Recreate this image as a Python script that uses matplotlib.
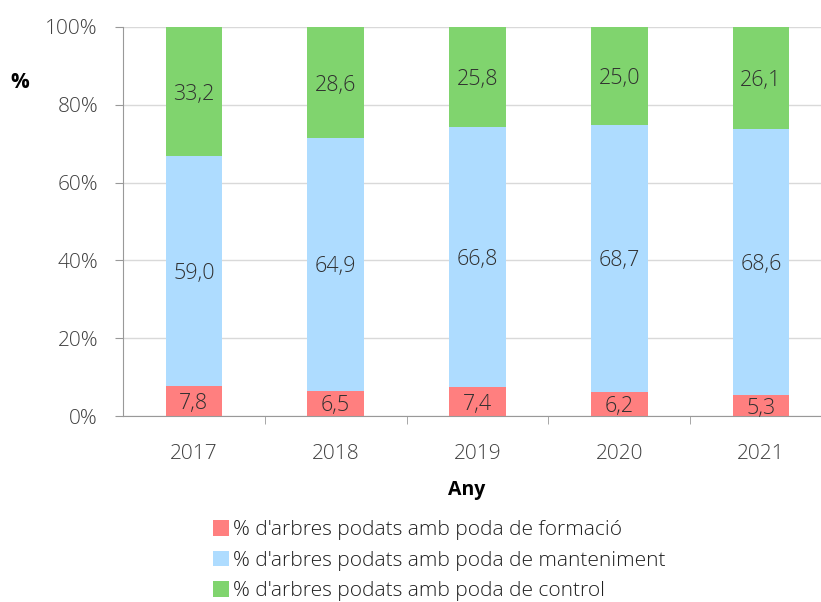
import numpy as np
import matplotlib.pyplot as plt

plt.rcParams['font.family'] = ['Open Sans', 'DejaVu Sans']

years = ['2017', '2018', '2019', '2020', '2021']
formacio = [7.8, 6.5, 7.4, 6.2, 5.3]
manteniment = [59.0, 64.9, 66.8, 68.7, 68.6]
control = [33.2, 28.6, 25.8, 25.0, 26.1]
noms = ["% d'arbres podats amb poda de formació",
        "% d'arbres podats amb poda de manteniment",
        "% d'arbres podats amb poda de control"]
colors = ['#FF7F7F', '#AEDCFF', '#80D46E']

txt = '#404040'
fig = plt.figure(figsize=(8.21, 6.02), dpi=100)
ax = fig.add_axes([123/821, 1-416/602, (832-123)/821, (416-27)/602])

x = np.arange(len(years))
w = 0.40
bottom = np.zeros(len(years))
for vals, c, n in zip([formacio, manteniment, control], colors, noms):
    ax.bar(x, vals, w, bottom=bottom, color=c, label=n, zorder=2)
    for xi, v, bt in zip(x, vals, bottom):
        ax.text(xi, bt + v/2, ('%.1f' % v).replace('.', ','), ha='center', va='center_baseline',
                fontsize=15.5, fontweight='light', color='#303030', zorder=3)
    bottom = bottom + np.array(vals)

ax.set_xlim(-0.5, len(years) - 0.5)
ax.set_ylim(0, 100)
ax.set_yticks(np.arange(0, 101, 20))
ax.set_yticklabels(['%d%%' % v for v in range(0, 101, 20)], fontsize=15,
                   fontweight='light', color=txt)
ax.yaxis.grid(True, color='#d9d9d9', linewidth=1, zorder=0)
ax.set_xticks(x)
ax.set_xticklabels(years, fontsize=15, fontweight='light', color=txt)
ax.tick_params(axis='x', length=0, pad=20)
ax.set_xticks(np.arange(0.5, len(years) - 0.5, 1), minor=True)
ax.tick_params(axis='x', which='minor', length=6, color='#999999')
ax.tick_params(axis='y', length=6, color='#999999', pad=12)
for s in ['top', 'right']:
    ax.spines[s].set_visible(False)
ax.spines['left'].set_color('#999999')
ax.spines['bottom'].set_color('#999999')

fig.text(20/821, 1-82/602, '%', fontsize=15, fontweight='bold', ha='center', va='center')
fig.text(467/821, 1-490/602, 'Any', fontsize=14, fontweight='bold', ha='center', va='center')

leg = fig.legend(loc='upper left', bbox_to_anchor=(205/821, 1-512/602), frameon=False,
                 prop={'size': 15, 'weight': 'light'}, handlelength=0.75, handleheight=0.75,
                 handletextpad=0.2, labelspacing=0.5, borderaxespad=0)
for t in leg.get_texts():
    t.set_color('#202020')

fig.savefig('out.png', dpi=100)
